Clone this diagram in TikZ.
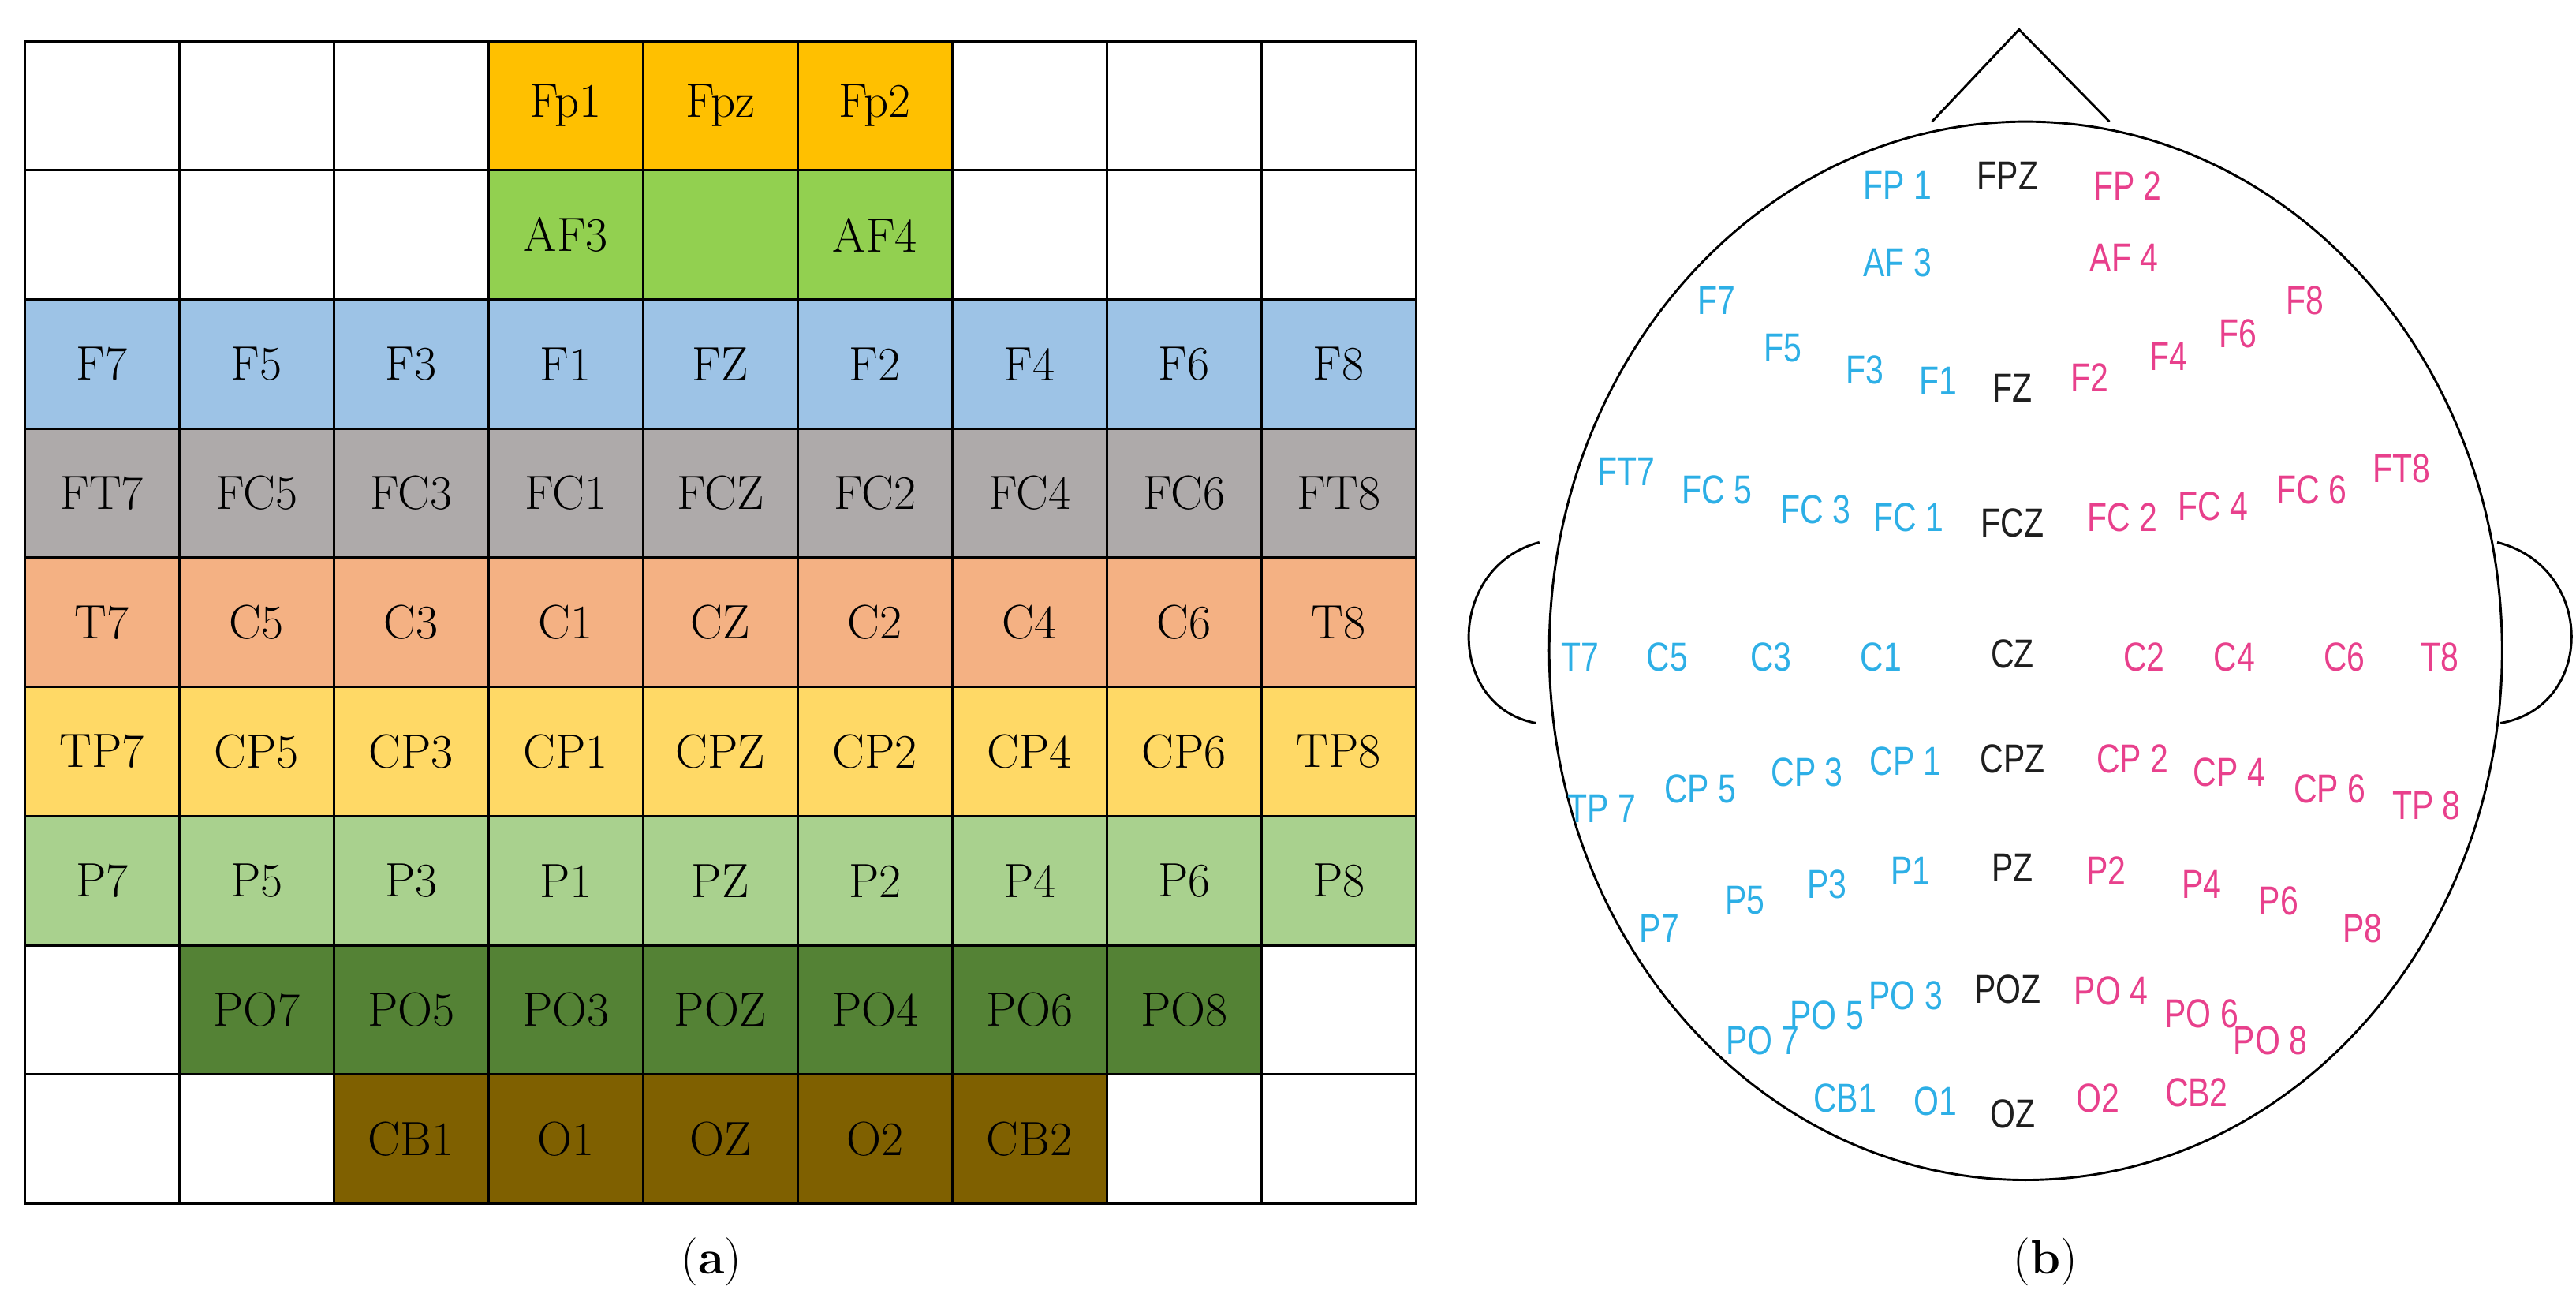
\documentclass[tikz,border=0pt]{standalone}
\usepackage{fontspec}
\usepackage{tikz}
\usetikzlibrary{positioning,calc}
\newfontfamily\headfont{Liberation Sans}[FakeStretch=0.8]
\definecolor{fpbg}{RGB}{255,192,0}
\definecolor{afbg}{RGB}{146,208,80}
\definecolor{fbg}{RGB}{157,195,230}
\definecolor{fcbg}{RGB}{174,170,170}
\definecolor{cbg}{RGB}{244,177,131}
\definecolor{cpbg}{RGB}{255,217,102}
\definecolor{pbg}{RGB}{169,209,142}
\definecolor{pobg}{RGB}{84,130,53}
\definecolor{obg}{RGB}{127,96,0}
\definecolor{leftc}{RGB}{45,175,230}
\definecolor{rightc}{RGB}{232,64,140}
\definecolor{midc}{RGB}{30,30,30}
\begin{document}
\begin{tikzpicture}[x=0.03cm, y=-0.03cm,
    cell/.style={rectangle, draw, line width=1.2pt, minimum width=2.823cm, minimum height=2.358cm, inner sep=0pt, font=\fontsize{25}{25}\selectfont},
    lbl/.style={font=\headfont\fontsize{21}{21}\selectfont, inner sep=1pt},
    L/.style={lbl, text=leftc},
    R/.style={lbl, text=rightc},
    M/.style={lbl, text=midc}
]
\useasboundingbox (0,0) rectangle (1568,794);

% Grid (a)
\foreach \r in {0,...,8}
  \foreach \c in {0,...,8}
    \node[cell, fill=white] (g\r\c) at ({15+94.1*(\c+0.5)},{25+78.6*(\r+0.5)}) {};
\foreach \r/\c/\col/\txt in {0/3/fpbg/Fp1, 0/4/fpbg/Fpz, 0/5/fpbg/Fp2,
    1/3/afbg/AF3, 1/4/afbg/{}, 1/5/afbg/AF4,
    2/0/fbg/F7, 2/1/fbg/F5, 2/2/fbg/F3, 2/3/fbg/F1, 2/4/fbg/FZ, 2/5/fbg/F2, 2/6/fbg/F4, 2/7/fbg/F6, 2/8/fbg/F8,
    3/0/fcbg/FT7, 3/1/fcbg/FC5, 3/2/fcbg/FC3, 3/3/fcbg/FC1, 3/4/fcbg/FCZ, 3/5/fcbg/FC2, 3/6/fcbg/FC4, 3/7/fcbg/FC6, 3/8/fcbg/FT8,
    4/0/cbg/T7, 4/1/cbg/C5, 4/2/cbg/C3, 4/3/cbg/C1, 4/4/cbg/CZ, 4/5/cbg/C2, 4/6/cbg/C4, 4/7/cbg/C6, 4/8/cbg/T8,
    5/0/cpbg/TP7, 5/1/cpbg/CP5, 5/2/cpbg/CP3, 5/3/cpbg/CP1, 5/4/cpbg/CPZ, 5/5/cpbg/CP2, 5/6/cpbg/CP4, 5/7/cpbg/CP6, 5/8/cpbg/TP8,
    6/0/pbg/P7, 6/1/pbg/P5, 6/2/pbg/P3, 6/3/pbg/P1, 6/4/pbg/PZ, 6/5/pbg/P2, 6/6/pbg/P4, 6/7/pbg/P6, 6/8/pbg/P8,
    7/1/pobg/PO7, 7/2/pobg/PO5, 7/3/pobg/PO3, 7/4/pobg/POZ, 7/5/pobg/PO4, 7/6/pobg/PO6, 7/7/pobg/PO8,
    8/2/obg/CB1, 8/3/obg/O1, 8/4/obg/OZ, 8/5/obg/O2, 8/6/obg/CB2}
  \node[cell, fill=\col] (e\r\c) at ({15+94.1*(\c+0.5)},{25+78.6*(\r+0.5)}) {\txt};

% Head (b)
\draw[line width=1.2pt] (1233,396) ellipse (290 and 322);
\coordinate (nl) at (1176,74);
\coordinate (nr) at (1284,74);
\coordinate (nt) at (1229,18);
\draw[line width=1.2pt] (nl) -- (nt) -- (nr);
\draw[line width=1.2pt] (937,330) .. controls (880,345) and (880,430) .. (935,440);
\draw[line width=1.2pt] (1520,330) .. controls (1580,345) and (1580,430) .. (1522,440);

% Electrode labels
\foreach \x/\y/\s/\t in {1155/113/L/FP 1, 1222/107/M/FPZ, 1295/113/R/FP 2,
    1155/160/L/AF 3, 1293/157/R/AF 4,
    1045/183/L/F7, 1085/212/L/F5, 1135/225/L/F3, 1180/232/L/F1, 1225/236/M/FZ,
    1272/230/R/F2, 1320/217/R/F4, 1362/203/R/F6, 1403/183/R/F8,
    990/287/L/FT7, 1045/298/L/FC 5, 1105/310/L/FC 3, 1162/315/L/FC 1, 1225/318/M/FCZ,
    1292/315/R/FC 2, 1347/308/R/FC 4, 1407/298/R/FC 6, 1462/285/R/FT8,
    962/400/L/T7, 1015/400/L/C5, 1078/400/L/C3, 1145/400/L/C1, 1225/398/M/CZ,
    1305/400/R/C2, 1360/400/R/C4, 1427/400/R/C6, 1485/400/R/T8,
    975/492/L/TP 7, 1035/480/L/CP 5, 1100/470/L/CP 3, 1160/463/L/CP 1, 1225/462/M/CPZ,
    1298/462/R/CP 2, 1357/470/R/CP 4, 1418/480/R/CP 6, 1477/490/R/TP 8,
    1010/565/L/P7, 1062/548/L/P5, 1112/538/L/P3, 1163/530/L/P1, 1225/528/M/PZ,
    1282/530/R/P2, 1340/538/R/P4, 1387/548/R/P6, 1438/565/R/P8,
    1073/633/L/PO 7, 1112/618/L/PO 5, 1160/606/L/PO 3, 1222/602/M/POZ,
    1285/603/R/PO 4, 1340/617/R/PO 6, 1382/633/R/PO 8,
    1123/668/L/CB1, 1178/670/L/O1, 1225/678/M/OZ, 1277/668/R/O2, 1337/665/R/CB2}
  \node[\s] (h\x\y) at (\x,\y) {\t};

% Captions
\node[font=\fontsize{25}{25}\selectfont] (capa) at (433,768) {(\textbf{a})};
\node[font=\fontsize{25}{25}\selectfont] (capb) at (1245,768) {(\textbf{b})};
\end{tikzpicture}
\end{document}
